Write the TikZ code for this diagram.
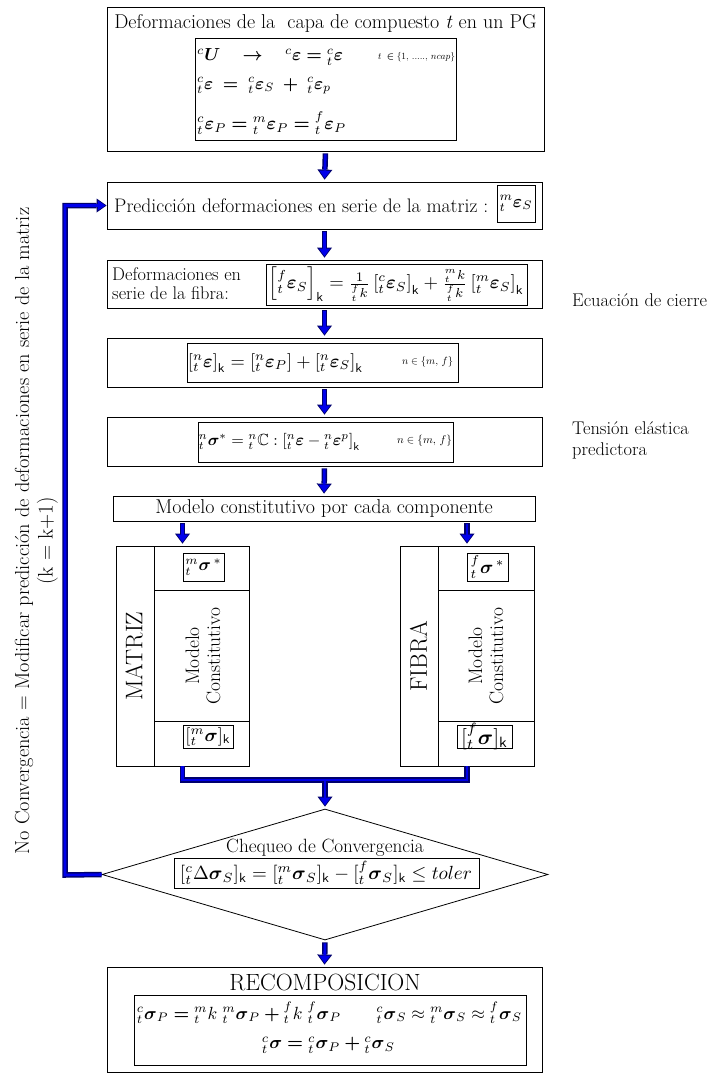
\documentclass[tikz,border=0pt]{standalone}
\usepackage{amsmath,amssymb}
\usepackage{graphicx}
\usetikzlibrary{arrows.meta,shapes.geometric}
\definecolor{navyb}{RGB}{0,0,110}
\definecolor{blueb}{RGB}{0,0,235}
\newcommand{\Tn}[3]{{}^{#1}_{#2}\boldsymbol{#3}}
\newcommand{\kk}{\mathsf{k}}
\newcommand{\fsz}[1]{\fontsize{#1}{#1}\selectfont}
\newcommand{\RB}[2]{\resizebox{#1pt}{!}{$\textstyle #2$}}
\tikzset{
 box/.style={draw, line width=0.8pt, inner sep=0pt},
 txt/.style={inner sep=0pt},
 aout/.style={draw=navyb, line width=5.5pt, -{Triangle[width=15pt,length=10pt,line width=0pt]}, shorten <=2pt, shorten >=2pt},
 ain/.style={draw=blueb, line width=2.6pt, -{Triangle[width=11pt,length=7.5pt,line width=0pt]}, shorten <=3pt, shorten >=3.4pt},
 lout/.style={draw=navyb, line width=5.5pt, line join=miter},
 lin/.style={draw=blueb, line width=2.6pt, line join=miter},
}
\newcommand{\BA}[2]{\draw[aout] (#1) -- (#2); \draw[ain] (#1) -- (#2);}
\begin{document}
\begin{tikzpicture}[x=1pt,y=-1pt]
\fill[white] (0,0) rectangle (710,1079);
\useasboundingbox (0,0) rectangle (710,1079);

% top box
\node[box, minimum width=437pt, minimum height=144pt] (top) at (325.5,79) {};
\node[txt, font=\fsz{20}] (toptitle) at (325.5,23) {Deformaciones de la \ capa de compuesto \textit{t} en un PG};
\node[box, minimum width=261pt, minimum height=102pt] (topin) at (325.5,89) {};
\node[txt, anchor=west] (eq1) at (197,57) {\RB{146}{{}^{c}\boldsymbol{U}\quad\boldsymbol{\rightarrow}\quad{}^{c}\boldsymbol{\varepsilon}\boldsymbol{=}\Tn{c}{t}{\varepsilon}}};
\node[txt, anchor=west] (eq1b) at (378,57) {\RB{77}{t\;\boldsymbol{\in}\{1,\,.....,\,ncap\}}};
\node[txt, anchor=west] (eq2) at (197,86) {\RB{134}{\Tn{c}{t}{\varepsilon}\;\boldsymbol{=}\;\Tn{c}{t}{\varepsilon}_{S}\;\boldsymbol{+}\;\Tn{c}{t}{\varepsilon}_{p}}};
\node[txt, anchor=west] (eq3) at (197,123) {\RB{149}{\Tn{c}{t}{\varepsilon}_{P}\boldsymbol{=}\Tn{m}{t}{\varepsilon}_{P}\boldsymbol{=}\Tn{f}{t}{\varepsilon}_{P}}};

% prediction
\node[box, minimum width=435pt, minimum height=47pt] (pred) at (324.5,205.5) {};
\node[txt, anchor=west, font=\fsz{19.6}] (predt) at (114,206) {Predicción deformaciones en serie de la matriz :};
\node[box, minimum width=38pt, minimum height=37pt] (predin) at (516,203.5) {};
\node[txt] (predf) at (516,203.5) {\RB{33}{\Tn{m}{t}{\varepsilon}_{S}}};

% fibre series strain
\node[box, minimum width=435pt, minimum height=48pt] (fib) at (324.5,284) {};
\node[txt, anchor=west, align=left, font=\fontsize{18.3}{19}\selectfont] (fibt) at (112,284) {Deformaciones en\\serie de la fibra:};
\node[box, minimum width=261pt, minimum height=41pt] (fibin) at (396.5,284.5) {};
\node[txt] (fibf) at (396,284.5) {\RB{255}{\left[\Tn{f}{t}{\varepsilon}_{S}\right]_{\kk}=\frac{1}{{}^{f}_{t}k}\left[\Tn{c}{t}{\varepsilon}_{S}\right]_{\kk}+\frac{{}^{m}_{t}k}{{}^{f}_{t}k}\left[\Tn{m}{t}{\varepsilon}_{S}\right]_{\kk}}};

% box 3
\node[box, minimum width=435pt, minimum height=49pt] (b3) at (324.5,362.5) {};
\node[box, minimum width=271pt, minimum height=39pt] (b3in) at (322.5,362.5) {};
\node[txt] (b3f) at (275.5,363) {\RB{175}{\left[\Tn{n}{t}{\varepsilon}\right]_{\kk}=\left[\Tn{n}{t}{\varepsilon}_{P}\right]+\left[\Tn{n}{t}{\varepsilon}_{S}\right]_{\kk}}};
\node[txt] (b3n) at (427.5,362) {\RB{51}{n\in\{m,\,f\}}};

% box 4
\node[box, minimum width=435pt, minimum height=49pt] (b4) at (324.5,441.5) {};
\node[box, minimum width=255pt, minimum height=40pt] (b4in) at (325.5,442) {};
\node[txt] (b4f) at (279.5,442) {\RB{161}{\Tn{n}{t}{\sigma}^{*}={}^{n}_{t}\mathbb{C}:\left[\Tn{n}{t}{\varepsilon}-{}^{n}_{t}\boldsymbol{\varepsilon}^{p}\right]_{\kk}}};
\node[txt] (b4n) at (424.5,441) {\RB{55}{n\in\{m,\,f\}}};

% constitutive model
\node[box, minimum width=422pt, minimum height=25pt, font=\fsz{20}] (mod) at (324,508.5) {Modelo constitutivo por cada componente};

% matrix block
\node[box, minimum width=133pt, minimum height=220pt] (mat) at (182.5,656) {};
\draw[line width=0.8pt] (154,546) -- (154,766) (154,590) -- (249,590) (154,721) -- (249,721);
\node[txt, rotate=90, font=\fsz{24}] (matl) at (134,656) {MATRIZ};
\node[txt, rotate=90, align=center, font=\fontsize{19.5}{21}\selectfont] (matm) at (203,656) {Modelo\\Constitutivo};
\node[box, minimum width=41pt, minimum height=28pt] (msig) at (203.5,567) {};
\node[txt] (msigf) at (203.5,567) {\RB{36}{\Tn{m}{t}{\sigma}^{\,*}}};
\node[box, minimum width=50pt, minimum height=23pt] (msigk) at (208,736.5) {};
\node[txt] (msigkf) at (208,736.5) {\RB{45}{[\Tn{m}{t}{\sigma}]_{\kk}}};

% fibre block
\node[box, minimum width=134pt, minimum height=220pt] (fbl) at (467,656) {};
\draw[line width=0.8pt] (438,546) -- (438,766) (438,590) -- (534,590) (438,721) -- (534,721);
\node[txt, rotate=90, font=\fsz{24}] (fibl) at (418.5,656) {FIBRA};
\node[txt, rotate=90, align=center, font=\fontsize{19.5}{21}\selectfont] (fibm) at (486,656) {Modelo\\Constitutivo};
\node[box, minimum width=41pt, minimum height=28pt] (fsig) at (487.5,567) {};
\node[txt] (fsigf) at (487.5,567) {\RB{34}{\Tn{f}{t}{\sigma}^{\,*}}};
\node[box, minimum width=55pt, minimum height=23pt] (fsigk) at (484.5,736.5) {};
\node[txt] (fsigkf) at (484.5,736.5) {\RB{47}{[\Tn{f}{t}{\sigma}]_{\kk}}};

% convergence check
\coordinate (mj) at (325,780);
\node[diamond, draw, line width=0.8pt, minimum width=446pt, minimum height=131pt, inner sep=0pt] (chk) at (325,874.5) {};
\node[txt, font=\fsz{19.2}] (chkt) at (325,848) {Chequeo de Convergencia};
\node[box, minimum width=305pt, minimum height=30pt] (chkin) at (326.5,873) {};
\node[txt] (chkf) at (326,873) {\RB{292}{[\Tn{c}{t}{}\Delta\boldsymbol{\sigma}_{S}]_{\kk}=[\Tn{m}{t}{\sigma}_{S}]_{\kk}-[\Tn{f}{t}{\sigma}_{S}]_{\kk}\le toler}};

% recomposition
\node[box, minimum width=435pt, minimum height=105pt] (rec) at (324.5,1019.5) {};
\node[txt, font=\fsz{23.5}] (rect) at (325,982) {RECOMPOSICION};
\node[box, minimum width=392pt, minimum height=70pt] (recin) at (330,1030) {};
\node[txt] (recf1) at (329.5,1013) {\RB{385}{\Tn{c}{t}{\sigma}_{P}\boldsymbol{=}{}^{m}_{t}k\;\Tn{m}{t}{\sigma}_{P}\boldsymbol{+}{}^{f}_{t}k\;\Tn{f}{t}{\sigma}_{P}\qquad\Tn{c}{t}{\sigma}_{S}\approx\Tn{m}{t}{\sigma}_{S}\approx\Tn{f}{t}{\sigma}_{S}}};
\node[txt] (recf2) at (328.5,1045) {\RB{133}{\Tn{c}{t}{\sigma}\boldsymbol{=}\Tn{c}{t}{\sigma}_{P}\boldsymbol{+}\Tn{c}{t}{\sigma}_{S}}};

% side labels
\node[txt, anchor=west, font=\fsz{18.4}] (ec) at (572,300) {Ecuación de cierre};
\node[txt, anchor=west, align=left, font=\fontsize{18.4}{21}\selectfont] (te) at (572,440) {Tensión elástica\\predictora};
\node[txt, rotate=90, font=\fsz{20.3}] (nc) at (24,531) {No Convergencia = Modificar predicción de deformaciones en serie de la matriz};
\node[txt, rotate=90, font=\fsz{21}] (kstep) at (47.5,541) {(k = k+1)};

% arrows
\BA{top.south}{pred.north}
\BA{pred.south}{fib.north}
\BA{fib.south}{b3.north}
\BA{b3.south}{b4.north}
\BA{b4.south}{mod.north}
\BA{mod.south -| mat.north}{mat.north}
\BA{mod.south -| fbl.north}{fbl.north}
\BA{chk.south}{rec.north}

% merge into check
\draw[lout] (mat.south) |- (mj) -| (fbl.south);
\draw[aout, shorten <=0pt] (mj) -- (chk.north);
\draw[lin] (mat.south) |- (mj) -| (fbl.south);
\draw[ain, shorten <=0pt] (mj) -- (chk.north);

% feedback loop
\coordinate (lp) at (65,875);
\draw[lout, -{Triangle[width=14pt,length=10pt,line width=0pt]}] (chk.west) -- (lp) |- (pred.west);
\draw[lin, -{Triangle[width=10pt,length=7.5pt,line width=0pt]}, shorten >=1.3pt] (chk.west) -- (lp) |- (pred.west);
\end{tikzpicture}
\end{document}
